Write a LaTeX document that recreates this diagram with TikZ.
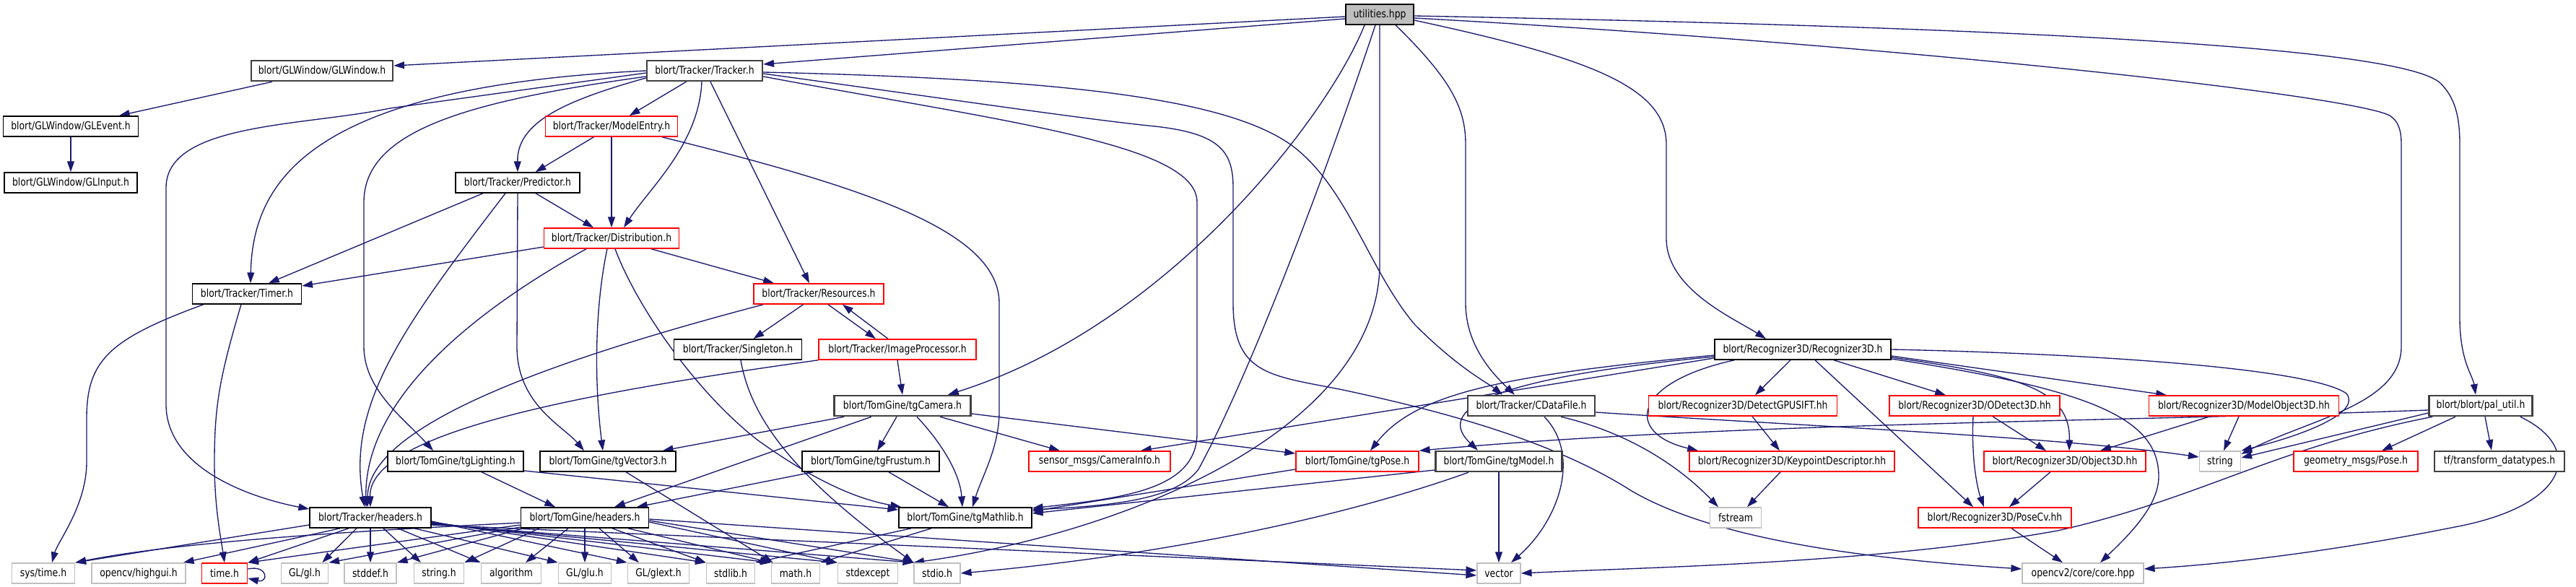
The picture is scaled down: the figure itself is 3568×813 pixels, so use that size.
\documentclass[tikz,border=0pt]{standalone}
\usepackage{fontspec}
\newfontfamily\nodefont[FakeStretch=0.83]{DejaVu Sans}
\usetikzlibrary{calc,arrows.meta}
\definecolor{edgec}{HTML}{191970}
\definecolor{rootfill}{HTML}{BFBFBF}
\definecolor{extc}{HTML}{BFBFBF}
\definecolor{redc}{HTML}{FF0000}
\pgfdeclarelayer{back}
\pgfdeclarelayer{bg}
\pgfsetlayers{back,bg,main}
\tikzset{
  box/.style={draw=black, fill=white, line width=0.45pt, inner sep=0pt,
    minimum height=0.28cm, font={\nodefont\fontsize{4.25pt}{5pt}\selectfont}, text=black},
  boxg/.style={box, draw=black!75, line width=0.7pt},
  boxr/.style={box, draw=redc},
  boxx/.style={box, draw=extc},
  boxroot/.style={box, fill=rootfill},
  wd/.style={minimum width=#1*0.01cm},
  edg/.style={draw=edgec, line width=0.38pt, -{Triangle[length=4.2pt,width=2.8pt]}},
}
\begin{document}
\begin{tikzpicture}[x=0.01cm,y=-0.01cm]
\begin{pgfonlayer}{back}
\fill[white] (0,0) rectangle (3568,813);
\end{pgfonlayer}
\useasboundingbox (0,0) rectangle (3568,813);

% ---------- nodes ----------
\node[boxroot, wd=94] (root) at (1911,20) {utilities.hpp};
\node[boxg, wd=196] (glwin) at (446,98) {blort/GLWindow/GLWindow.h};
\node[box, wd=187] (glevent) at (98,175) {blort/GLWindow/GLEvent.h};
\node[box, wd=184] (glinput) at (98,253) {blort/GLWindow/GLInput.h};
\node[boxg, wd=160] (tracker) at (976,98) {blort/Tracker/Tracker.h};
\node[boxr, wd=183] (modelentry) at (847,175) {blort/Tracker/ModelEntry.h};
\node[box, wd=172] (predictor) at (717,253) {blort/Tracker/Predictor.h};
\node[boxr, wd=187] (distribution) at (847,330) {blort/Tracker/Distribution.h};
\node[box, wd=151] (timer) at (342,407) {blort/Tracker/Timer.h};
\node[boxr, wd=180] (resources) at (1134,407) {blort/Tracker/Resources.h};
\node[box, wd=177] (singleton) at (1022,484) {blort/Tracker/Singleton.h};
\node[boxr, wd=218] (imgproc) at (1243,484) {blort/Tracker/ImageProcessor.h};
\node[boxg, wd=189] (tgcamera) at (1250,562) {blort/TomGine/tgCamera.h};
\node[box, wd=188] (tglighting) at (631,639) {blort/TomGine/tgLighting.h};
\node[box, wd=188] (tgvector) at (842,639) {blort/TomGine/tgVector3.h};
\node[box, wd=190] (tgfrustum) at (1206,639) {blort/TomGine/tgFrustum.h};
\node[boxr, wd=196] (camerainfo) at (1523,639) {sensor\_msgs/CameraInfo.h};
\node[boxr, wd=170] (tgpose) at (1880,639) {blort/TomGine/tgPose.h};
\node[boxg, wd=175] (tgmodel) at (2076,639) {blort/TomGine/tgModel.h};
\node[box, wd=168] (trheaders) at (513,717) {blort/Tracker/headers.h};
\node[box, wd=177] (tgheaders) at (810,717) {blort/TomGine/headers.h};
\node[box, wd=184] (tgmathlib) at (1337,717) {blort/TomGine/tgMathlib.h};
\node[box, wd=244] (recog) at (2497,484) {blort/Recognizer3D/Recognizer3D.h};
\node[boxg, wd=176] (cdatafile) at (2121,562) {blort/Tracker/CDataFile.h};
\node[boxr, wd=261] (detectgpu) at (2414,562) {blort/Recognizer3D/DetectGPUSIFT.hh};
\node[boxr, wd=236] (odetect) at (2735,562) {blort/Recognizer3D/ODetect3D.hh};
\node[boxr, wd=263] (modelobj) at (3108,562) {blort/Recognizer3D/ModelObject3D.hh};
\node[boxg, wd=143] (palutil) at (3436,562) {blort/blort/pal\_util.h};
\node[boxr, wd=284] (keypoint) at (2482,639) {blort/Recognizer3D/KeypointDescriptor.hh};
\node[boxr, wd=224] (object3d) at (2860,639) {blort/Recognizer3D/Object3D.hh};
\node[boxx, wd=57] (string) at (3075,639) {string};
\node[boxr, wd=172] (geompose) at (3263,639) {geometry\_msgs/Pose.h};
\node[boxg, wd=180] (tftrans) at (3462,639) {tf/transform\_datatypes.h};
\node[boxx, wd=71] (fstream) at (2404,717) {fstream};
\node[boxr, wd=212] (posecv) at (2763,717) {blort/Recognizer3D/PoseCv.hh};
\node[boxx, wd=87] (systime) at (60,794) {sys/time.h};
\node[boxx, wd=130] (highgui) at (192,794) {opencv/highgui.h};
\node[boxr, wd=63] (timeh) at (311,794) {time.h};
\node[boxx, wd=65] (glgl) at (422,794) {GL/gl.h};
\node[boxx, wd=72] (stddef) at (513,794) {stddef.h};
\node[boxx, wd=69] (stringh) at (608,794) {string.h};
\node[boxx, wd=83] (algorithm) at (708,794) {algorithm};
\node[boxx, wd=73] (glglu) at (810,794) {GL/glu.h};
\node[boxx, wd=85] (glext) at (912,794) {GL/glext.h};
\node[boxx, wd=67] (stdlib) at (1012,794) {stdlib.h};
\node[boxx, wd=67] (math) at (1102,794) {math.h};
\node[boxx, wd=83] (stdexcept) at (1202,794) {stdexcept};
\node[boxx, wd=64] (stdio) at (1298,794) {stdio.h};
\node[boxx, wd=60] (vector) at (2076,794) {vector};
\node[boxx, wd=168] (core) at (2885,794) {opencv2/core/core.hpp};

% ---------- edges ----------
\begin{pgfonlayer}{bg}
% utilities.hpp
\draw[edg] ($(root.west)+(0,3)$) -- ($(glwin.east)+(0,-7)$);
\draw[edg] ($(root.west)+(0,6)$) -- ($(tracker.east)+(0,-9)$);
\draw[edg] ($(root.south)+(-21,0)$) .. controls (1840,160) and (1620,450) .. ($(tgcamera.north)+(63,0)$);
\draw[edg] ($(root.south)+(-6,0)$) .. controls (1820,290) and (1720,540) .. (1660,650) .. controls (1630,690) and (1550,700) .. ($(tgmathlib.east)+(0,-11)$);
\draw[edg] (root.south) -- (1911,370) .. controls (1905,600) and (1550,740) .. (stdio.north west);
\draw[edg] ($(root.south)+(22,0)$) .. controls (2010,110) and (2030,150) .. (2030,200) -- (2030,420) .. controls (2030,480) and (2070,520) .. ($(cdatafile.north)+(-23,0)$);
\draw[edg] ($(root.east)+(0,8)$) .. controls (2200,80) and (2308,120) .. (2308,200) -- (2308,330) .. controls (2308,400) and (2400,440) .. ($(recog.north)+(-51,0)$);
\draw[edg] ($(root.east)+(0,2)$) .. controls (2900,40) and (3330,70) .. (3380,115) .. controls (3400,135) and (3407,160) .. (3407,200) -- (3407,440) .. controls (3407,500) and (3425,520) .. ($(palutil.north)+(-7,0)$);
\draw[edg] ($(root.east)+(0,5)$) .. controls (2600,60) and (3250,130) .. (3310,160) .. controls (3322,168) and (3326,180) .. (3326,200) -- (3326,480) .. controls (3326,560) and (3200,580) .. ($(string.east)+(0,-10)$);
% GLWindow
\draw[edg] (glwin) -- (glevent);
\draw[edg] (glevent) -- (glinput);
% Tracker.h
\draw[edg] (tracker) -- (modelentry);
\draw[edg] ($(tracker.west)+(0,10)$) .. controls (780,140) and (716,170) .. (predictor.north);
\draw[edg] ($(tracker.south)+(-4,0)$) .. controls (968,200) and (900,260) .. ($(distribution.north)+(17,0)$);
\draw[edg] (tracker.west) .. controls (430,120) and (350,250) .. ($(timer.north)+(5,0)$);
\draw[edg] ($(tracker.west)+(0,3)$) -- (540,150) .. controls (420,175) and (230,170) .. (230,260) -- (230,560) .. controls (230,650) and (350,690) .. ($(trheaders.west)+(0,-12)$);
\draw[edg] ($(tracker.west)+(0,8)$) .. controls (650,140) and (504,180) .. (504,280) -- (504,480) .. controls (504,540) and (560,580) .. ($(tglighting.north)+(-31,0)$);
\draw[edg] ($(tracker.south)+(8,0)$) -- ($(resources.north)+(-13,0)$);
\draw[edg] ($(tracker.east)+(0,8)$) .. controls (1400,170) and (1658,200) .. (1658,280) -- (1658,600) .. controls (1658,680) and (1550,690) .. ($(tgmathlib.east)+(0,-13)$);
\draw[edg] ($(tracker.east)+(0,2)$) .. controls (1500,110) and (1720,140) .. (1800,210) .. controls (1870,270) and (1900,380) .. (1960,450) .. controls (2020,510) and (2060,530) .. ($(cdatafile.north)+(-40,0)$);
\draw[edg] ($(tracker.east)+(0,4)$) .. controls (1300,135) and (1500,165) .. (1600,175) .. controls (1690,185) and (1708,210) .. (1708,260) -- (1708,420) .. controls (1708,520) and (1760,520) .. (1860,540) .. controls (2000,570) and (2150,610) .. (2260,680) .. controls (2380,750) and (2600,775) .. ($(core.west)+(0,-6)$);
% ModelEntry.h
\draw[edg] (modelentry) -- (predictor);
\draw[edg] (modelentry) -- (distribution);
\draw[edg] ($(modelentry.south)+(70,0)$) .. controls (1200,260) and (1384,320) .. (1384,420) -- (1384,570) .. controls (1384,620) and (1360,660) .. ($(tgmathlib.north)+(10,0)$);
% Predictor.h
\draw[edg] (predictor) -- (distribution);
\draw[edg] ($(predictor.south)+(-48,0)$) -- ($(timer.north)+(30,0)$);
\draw[edg] ($(predictor.south)+(-17,0)$) .. controls (560,450) and (480,560) .. ($(trheaders.north)+(-8,0)$);
\draw[edg] (predictor.south) -- (716,480) .. controls (716,560) and (780,590) .. ($(tgvector.north)+(-33,0)$);
% Distribution.h
\draw[edg] ($(distribution.west)+(0,12)$) -- ($(timer.east)+(0,-11)$);
\draw[edg] ($(distribution.south)+(55,0)$) -- ($(resources.north)+(-62,0)$);
\draw[edg] ($(distribution.south)+(-35,0)$) .. controls (640,440) and (505,560) .. ($(trheaders.north)+(-6,0)$);
\draw[edg] ($(distribution.south)+(-6,0)$) .. controls (825,420) and (822,520) .. ($(tgvector.north)+(-7,0)$);
\draw[edg] ($(distribution.south)+(5,0)$) .. controls (880,420) and (960,540) .. (1050,610) .. controls (1120,660) and (1180,690) .. ($(tgmathlib.north west)+(4,0)$);
% Timer.h
\draw[edg] ($(timer.south west)+(16,0)$) .. controls (150,470) and (120,500) .. (120,580) -- (120,640) .. controls (120,700) and (80,750) .. ($(systime.north)+(12,0)$);
\draw[edg] ($(timer.south)+(-8,0)$) .. controls (305,520) and (297,560) .. (297,640) .. controls (297,700) and (305,740) .. (timeh.north);
\draw[edg] ($(timeh.east)+(0,-6)$) .. controls (372,782) and (372,808) .. ($(timeh.east)+(0,7)$);
% Resources.h
\draw[edg] (resources) -- (singleton);
\draw[edg] ($(resources.south)+(13,0)$) -- ($(imgproc.north)+(-30,0)$);
\draw[edg] ($(resources.south west)+(14,0)$) .. controls (760,500) and (510,590) .. ($(trheaders.north)+(-4,0)$);
% ImageProcessor.h
\draw[edg] ($(imgproc.north)+(-13,0)$) -- ($(resources.south)+(33,0)$);
\draw[edg] (imgproc.south) -- (tgcamera.north);
\draw[edg] (imgproc.south west) .. controls (800,545) and (510,600) .. (trheaders.north);
% Singleton.h
\draw[edg] ($(singleton.south)+(4,0)$) .. controls (1040,580) and (1100,660) .. (stdio.north west);
% tgCamera.h
\draw[edg] ($(tgcamera.south west)+(15,0)$) -- ($(tgvector.north east)+(-19,0)$);
\draw[edg] ($(tgcamera.south)+(-43,0)$) -- ($(tgheaders.north)+(41,0)$);
\draw[edg] ($(tgcamera.south)+(-8,0)$) -- ($(tgfrustum.north)+(9,0)$);
\draw[edg] ($(tgcamera.south)+(20,0)$) .. controls (1310,620) and (1330,660) .. ($(tgmathlib.north)+(-4,0)$);
\draw[edg] ($(tgcamera.south)+(52,0)$) -- ($(camerainfo.north)+(-55,0)$);
\draw[edg] ($(tgcamera.east)+(0,11)$) -- ($(tgpose.west)+(0,-11)$);
% tgLighting, tgVector3, tgFrustum, tgPose, tgModel
\draw[edg] ($(tglighting.south)+(36,0)$) -- ($(tgheaders.north)+(-41,0)$);
\draw[edg] ($(tglighting.east)+(0,13)$) -- ($(tgmathlib.west)+(0,-11)$);
\draw[edg] ($(tgvector.south)+(25,0)$) -- ($(math.north west)+(3,0)$);
\draw[edg] ($(tgfrustum.south west)+(16,0)$) -- ($(tgheaders.north)+(72,0)$);
\draw[edg] ($(tgfrustum.south)+(25,0)$) -- ($(tgmathlib.north)+(-23,0)$);
\draw[edg] ($(tgpose.west)+(0,11)$) -- ($(tgmathlib.east)+(0,-9)$);
\draw[edg] ($(tgmodel.west)+(0,12)$) -- ($(tgmathlib.east)+(0,-6)$);
\draw[edg] ($(tgmodel.south)+(-42,0)$) .. controls (1850,720) and (1600,770) .. (stdio.east);
\draw[edg] (tgmodel) -- (vector);
% tgMathlib.h
\draw[edg] ($(tgmathlib.south)+(-75,0)$) -- (stdlib.north east);
\draw[edg] ($(tgmathlib.south)+(-47,0)$) -- (math.north east);
% CDataFile.h
\draw[edg] ($(cdatafile.south)+(18,0)$) .. controls (2190,630) and (2160,720) .. ($(vector.north)+(17,0)$);
\draw[edg] ($(cdatafile.south)+(41,0)$) .. controls (2260,600) and (2330,650) .. ($(fstream.north)+(-24,0)$);
\draw[edg] ($(cdatafile.east)+(0,9)$) .. controls (2500,590) and (2850,605) .. ($(string.west)+(0,-6)$);
% Recognizer3D.h
\draw[edg] ($(recog.west)+(0,8)$) .. controls (2080,520) and (1960,545) .. ($(tgpose.north)+(18,0)$);
\draw[edg] ($(recog.west)+(0,10)$) .. controls (2050,525) and (1990,570) .. ($(tgmodel.north)+(-29,0)$);
\draw[edg] ($(recog.west)+(0,12)$) -- ($(camerainfo.north)+(57,0)$);
\draw[edg] ($(recog.south west)+(28,0)$) .. controls (2260,530) and (2250,600) .. ($(keypoint.north)+(-130,0)$);
\draw[edg] ($(recog.south)+(-17,0)$) -- ($(detectgpu.north)+(17,0)$);
\draw[edg] ($(recog.south)+(43,0)$) -- ($(odetect.north)+(-40,0)$);
\draw[edg] ($(recog.south)+(17,0)$) -- ($(posecv.north)+(-30,0)$);
\draw[edg] (recog.east) .. controls (2900,490) and (3200,510) .. (3250,545) .. controls (3270,570) and (3200,600) .. (string.north east);
\draw[edg] ($(recog.east)+(0,9)$) -- ($(modelobj.north)+(-107,0)$);
\draw[edg] ($(recog.east)+(0,11)$) .. controls (2800,520) and (2868,540) .. ($(object3d.north)+(6,0)$);
\draw[edg] ($(recog.east)+(0,13)$) .. controls (2900,540) and (2990,580) .. (2990,660) .. controls (2990,700) and (2950,740) .. ($(core.north)+(24,0)$);
% Recognizer3D subtree
\draw[edg] ($(detectgpu.south)+(13,0)$) -- ($(keypoint.north)+(-17,0)$);
\draw[edg] ($(odetect.south)+(25,0)$) -- ($(object3d.north)+(-26,0)$);
\draw[edg] ($(odetect.south)+(-2,0)$) .. controls (2730,640) and (2740,680) .. ($(posecv.north)+(-15,0)$);
\draw[edg] ($(modelobj.south)+(-47,0)$) -- ($(object3d.north)+(49,0)$);
\draw[edg] ($(modelobj.south)+(-7,0)$) -- ($(string.north)+(5,0)$);
\draw[edg] ($(object3d.south)+(-20,0)$) -- ($(posecv.north)+(20,0)$);
\draw[edg] ($(posecv.south)+(23,0)$) -- ($(core.north)+(-28,0)$);
\draw[edg] ($(keypoint.south)+(-16,0)$) -- ($(fstream.north)+(16,0)$);
% pal_util.h
\draw[edg] ($(palutil.west)+(0,6)$) .. controls (2900,585) and (2400,585) .. (tgpose.north east);
\draw[edg] ($(palutil.west)+(0,10)$) -- ($(string.east)+(0,-5)$);
\draw[edg] ($(palutil.south west)+(6,0)$) .. controls (3150,620) and (3050,690) .. (2850,735) .. controls (2600,780) and (2300,785) .. (vector.east);
\draw[edg] ($(palutil.south)+(-35,0)$) -- ($(geompose.north)+(36,0)$);
\draw[edg] ($(palutil.south)+(6,0)$) -- ($(tftrans.north)+(-11,0)$);
\draw[edg] ($(palutil.south east)+(-18,0)$) .. controls (3580,620) and (3560,700) .. (3400,730) .. controls (3250,760) and (3100,780) .. ($(core.east)+(0,-6)$);
% Tracker/headers.h
\draw[edg] ($(trheaders.west)+(0,10)$) -- (systime.north east);
\draw[edg] ($(trheaders.south)+(-42,0)$) -- ($(highgui.north east)+(-4,0)$);
\draw[edg] ($(trheaders.south)+(-30,0)$) -- (timeh.north east);
\draw[edg] ($(trheaders.south)+(-19,0)$) -- ($(glgl.north east)+(-9,0)$);
\draw[edg] (trheaders.south) -- (stddef.north);
\draw[edg] ($(trheaders.south)+(18,0)$) -- ($(stringh.north)+(-25,0)$);
\draw[edg] ($(trheaders.south)+(38,0)$) -- (algorithm.north west);
\draw[edg] ($(trheaders.south)+(61,0)$) -- (glglu.north west);
\draw[edg] ($(trheaders.east)+(0,5)$) -- (glext.north west);
\draw[edg] ($(trheaders.east)+(0,6)$) -- (stdlib.north west);
\draw[edg] ($(trheaders.east)+(0,7)$) -- (math.north west);
\draw[edg] ($(trheaders.east)+(0,8)$) -- (stdexcept.north west);
\draw[edg] ($(trheaders.east)+(0,9)$) -- (stdio.north west);
\draw[edg] ($(trheaders.east)+(0,10)$) -- ($(vector.west)+(0,-4)$);
% TomGine/headers.h
\draw[edg] ($(tgheaders.west)+(0,7)$) .. controls (500,735) and (250,750) .. (systime.north east);
\draw[edg] ($(tgheaders.west)+(0,10)$) -- (timeh.north east);
\draw[edg] ($(tgheaders.west)+(0,13)$) -- (glgl.north east);
\draw[edg] ($(tgheaders.south west)+(4,0)$) -- (stddef.north east);
\draw[edg] ($(tgheaders.south)+(-63,0)$) -- (stringh.north east);
\draw[edg] ($(tgheaders.south)+(-23,0)$) -- ($(algorithm.north)+(20,0)$);
\draw[edg] (tgheaders.south) -- (glglu.north);
\draw[edg] ($(tgheaders.south)+(20,0)$) -- ($(glext.north)+(-27,0)$);
\draw[edg] ($(tgheaders.south)+(38,0)$) -- (stdlib.north west);
\draw[edg] ($(tgheaders.south)+(60,0)$) -- (math.north west);
\draw[edg] ($(tgheaders.east)+(0,6)$) -- (stdexcept.north west);
\draw[edg] ($(tgheaders.east)+(0,4)$) -- ($(stdio.north west)+(2,0)$);
\draw[edg] ($(tgheaders.east)+(0,2)$) -- ($(vector.west)+(0,3)$);
\end{pgfonlayer}
\end{tikzpicture}
\end{document}
